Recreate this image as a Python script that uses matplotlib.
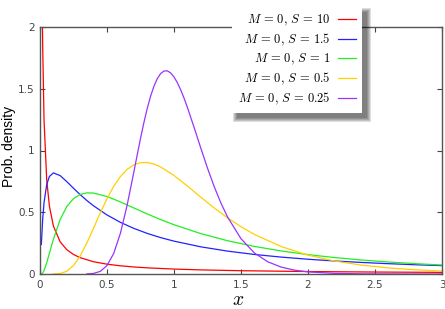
import matplotlib
matplotlib.use("Agg")
import matplotlib.pyplot as plt
from matplotlib.patches import Rectangle

plt.rcParams['mathtext.fontset'] = 'cm'

# Values (log-normal densities, M = 0)
x_s10 = [0.01, 0.018, 0.02, 0.03, 0.05, 0.07, 0.1, 0.15, 0.2, 0.25, 0.3, 0.4, 0.5, 0.6, 0.7, 0.8, 1.0, 1.2, 1.5, 2.0, 2.5, 3.0]
y_s10 = [3.588, 2.045, 1.848, 1.2505, 0.7629, 0.5501, 0.3885, 0.2612, 0.1969, 0.1581, 0.1320, 0.0993, 0.0796, 0.0664, 0.0570, 0.0499, 0.0399, 0.0332, 0.0266, 0.0199, 0.0159, 0.0132]

x_s15 = [0.01, 0.02, 0.03, 0.05, 0.07, 0.1, 0.15, 0.2, 0.25, 0.3, 0.35, 0.4, 0.5, 0.6, 0.7, 0.8, 0.9, 1.0, 1.2, 1.4, 1.6, 1.8, 2.0, 2.2, 2.4, 2.6, 2.8, 3.0]
y_s15 = [0.2388, 0.4434, 0.5767, 0.7241, 0.7894, 0.8187, 0.7969, 0.7478, 0.6941, 0.6424, 0.5948, 0.5517, 0.4781, 0.4183, 0.3694, 0.3288, 0.2948, 0.2660, 0.2200, 0.1853, 0.1583, 0.1368, 0.1195, 0.1053, 0.0935, 0.0835, 0.0750, 0.0678]

x_s1 = [0.01, 0.02, 0.03, 0.05, 0.07, 0.1, 0.15, 0.2, 0.25, 0.3, 0.35, 0.4, 0.5, 0.6, 0.7, 0.8, 0.9, 1.0, 1.2, 1.4, 1.6, 1.8, 2.0, 2.2, 2.4, 2.6, 2.8, 3.0]
y_s1 = [0.0010, 0.0095, 0.0284, 0.0899, 0.1661, 0.2816, 0.4399, 0.5463, 0.6104, 0.6442, 0.6569, 0.6554, 0.6275, 0.5836, 0.5348, 0.4864, 0.4408, 0.3989, 0.3270, 0.2693, 0.2233, 0.1865, 0.1569, 0.1329, 0.1133, 0.0972, 0.0839, 0.0727]

x_s05 = [0.1, 0.15, 0.2, 0.25, 0.3, 0.35, 0.4, 0.45, 0.5, 0.55, 0.6, 0.65, 0.7, 0.75, 0.8, 0.85, 0.9, 1.0, 1.1, 1.2, 1.3, 1.4, 1.5, 1.6, 1.8, 2.0, 2.2, 2.4, 2.6, 2.8, 3.0]
y_s05 = [0.0002, 0.0040, 0.0225, 0.0684, 0.1465, 0.2516, 0.3720, 0.4953, 0.6104, 0.7098, 0.7891, 0.8469, 0.8838, 0.9016, 0.9028, 0.8904, 0.8671, 0.7979, 0.7123, 0.6221, 0.5348, 0.4544, 0.3829, 0.3206, 0.2221, 0.1526, 0.1046, 0.0718, 0.0494, 0.0342, 0.0238]

x_s025 = [0.35, 0.4, 0.45, 0.5, 0.55, 0.6, 0.65, 0.7, 0.725, 0.75, 0.775, 0.8, 0.825, 0.85, 0.875, 0.9, 0.925, 0.95, 0.975, 1.0, 1.025, 1.05, 1.075, 1.1, 1.15, 1.2, 1.25, 1.3, 1.35, 1.4, 1.5, 1.6, 1.7, 1.8, 1.9, 2.0, 2.2, 2.4, 2.6, 3.0]
y_s025 = [0.0007, 0.0048, 0.0216, 0.0684, 0.1663, 0.3298, 0.5562, 0.8239, 0.9623, 1.0974, 1.2245, 1.3393, 1.4386, 1.5198, 1.5813, 1.6224, 1.6433, 1.6448, 1.6283, 1.5958, 1.5493, 1.4911, 1.4236, 1.3490, 1.1869, 1.0193, 0.8571, 0.7077, 0.5751, 0.4608, 0.2856, 0.1704, 0.0987, 0.0559, 0.0311, 0.0171, 0.0050, 0.0014, 0.0004, 0.0000]

labels = [r'$M\,=\,0,\,S\,=\,10$', r'$M\,=\,0,\,S\,=\,1.5$', r'$M\,=\,0,\,S\,=\,1$',
          r'$M\,=\,0,\,S\,=\,0.5$', r'$M\,=\,0,\,S\,=\,0.25$']
colors = ['#ff0000', '#2222ff', '#22ee22', '#ffd000', '#9933ff']
xticks = [0, 0.5, 1, 1.5, 2, 2.5, 3]
xticklabels = ['0', '0.5', '1', '1.5', '2', '2.5', '3']
yticks = [0, 0.5, 1, 1.5, 2]
yticklabels = ['0', '0.5', '1', '1.5', '2']

W, H = 445, 309
fig = plt.figure(figsize=(W / 100, H / 100), dpi=100)
ax = fig.add_axes([40 / W, 1 - 274 / H, (442 - 40) / W, (274 - 27) / H])

series = [(x_s10, y_s10), (x_s15, y_s15), (x_s1, y_s1), (x_s05, y_s05), (x_s025, y_s025)]
for (xs, ys), c, lab in zip(series, colors, labels):
    ax.plot(xs, ys, color=c, lw=0.9, label=lab)

ax.set_xlim(0, 3)
ax.set_ylim(0, 2)
ax.set_xticks(xticks)
ax.set_xticklabels(xticklabels)
ax.set_yticks(yticks)
ax.set_yticklabels(yticklabels)
ax.tick_params(direction='in', length=3.5, width=0.8, colors='#444444',
               labelsize=7.5, top=True, right=True, labelcolor='#444444', pad=4)
for s in ax.spines.values():
    s.set_color('#555555')
    s.set_linewidth(1.0)

yl = ax.set_ylabel('Prob. density', fontsize=10, family='Liberation Sans')
yl.set_verticalalignment('center')
ax.yaxis.set_label_coords((9 - 40) / 402, (274 - 146.5) / 247)
xl = ax.set_xlabel(r'$x$', fontsize=14)
xl.set_verticalalignment('baseline')
ax.xaxis.set_label_coords((238 - 40) / 402, (274 - 305) / 247)

leg = fig.legend(loc='upper left', bbox_to_anchor=(232 / W, 1 - 7 / H),
                 bbox_transform=fig.transFigure, borderaxespad=0,
                 markerfirst=False, fancybox=False, frameon=True,
                 fontsize=9, handlelength=1.5, handletextpad=0.6,
                 labelspacing=0.3, borderpad=0.45, framealpha=1,
                 facecolor='white', edgecolor='white')
leg.get_frame().set_linewidth(0)
leg.set_zorder(10)

fig.canvas.draw()
bb = leg.get_window_extent()
# soft shadow
for i in range(5):
    r = Rectangle((bb.x0 + 5 - i, bb.y0 - 5 - i), bb.width + 2 * i, bb.height + 2 * i,
                  transform=None, facecolor='black', alpha=0.13,
                  edgecolor='none', zorder=9)
    fig.patches.append(r)

fig.savefig('out.png', dpi=100)
